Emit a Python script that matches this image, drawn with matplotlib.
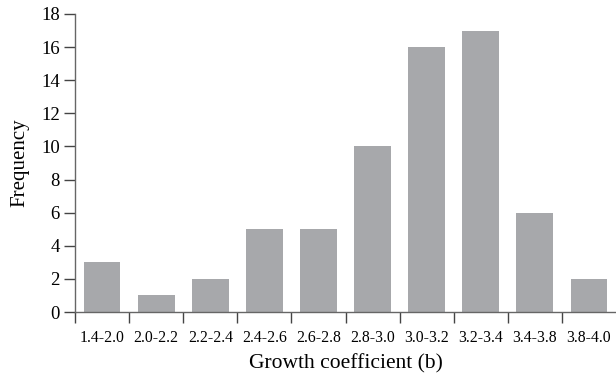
# Histogram of growth coefficient (b)
import matplotlib.pyplot as plt

# Data
classes = ["1.4-2.0", "2.0-2.2", "2.2-2.4", "2.4-2.6", "2.6-2.8",
           "2.8-3.0", "3.0-3.2", "3.2-3.4", "3.4-3.8", "3.8-4.0"]
frequency = [3, 1, 2, 5, 5, 10, 16, 17, 6, 2]
y_ticks = [0, 2, 4, 6, 8, 10, 12, 14, 16, 18]

plt.rcParams['font.family'] = ['Liberation Serif', 'DejaVu Serif']

fig = plt.figure(figsize=(6.16, 3.73), dpi=100)
ax = fig.add_axes([0.1218, 0.1635, 0.8782, 0.799])

pos = list(range(len(classes)))
ax.bar(pos, frequency, width=0.68, color='#a7a8ab', zorder=2)

# y axis
ax.set_ylim(0, 18)
ax.set_yticks(y_ticks)
ax.set_yticklabels([str(t) for t in y_ticks], fontsize=13.5)
ax.set_ylabel("Frequency", fontsize=15)
ax.yaxis.set_label_coords(-0.085, 0.5)

# x axis: ticks at class boundaries, labels centred under bars
ax.set_xlim(-0.5, len(classes) - 0.5)
ax.set_xticks([p - 0.5 for p in pos])
ax.set_xticklabels([])
ax.set_xticks(pos, minor=True)
ax.set_xticklabels(classes, minor=True, fontsize=11.3)
ax.tick_params(axis='x', which='minor', length=0, pad=13)
ax.tick_params(axis='x', which='major', length=8, width=1, color='#444444')
ax.tick_params(axis='y', length=8, width=1, color='#444444', pad=3)
ax.set_xlabel("Growth coefficient (b)", fontsize=15.5, labelpad=6)

for side in ['top', 'right']:
    ax.spines[side].set_visible(False)
for side in ['left', 'bottom']:
    ax.spines[side].set_color('#666666')
    ax.spines[side].set_linewidth(1)

fig.savefig("out.png", dpi=100)
